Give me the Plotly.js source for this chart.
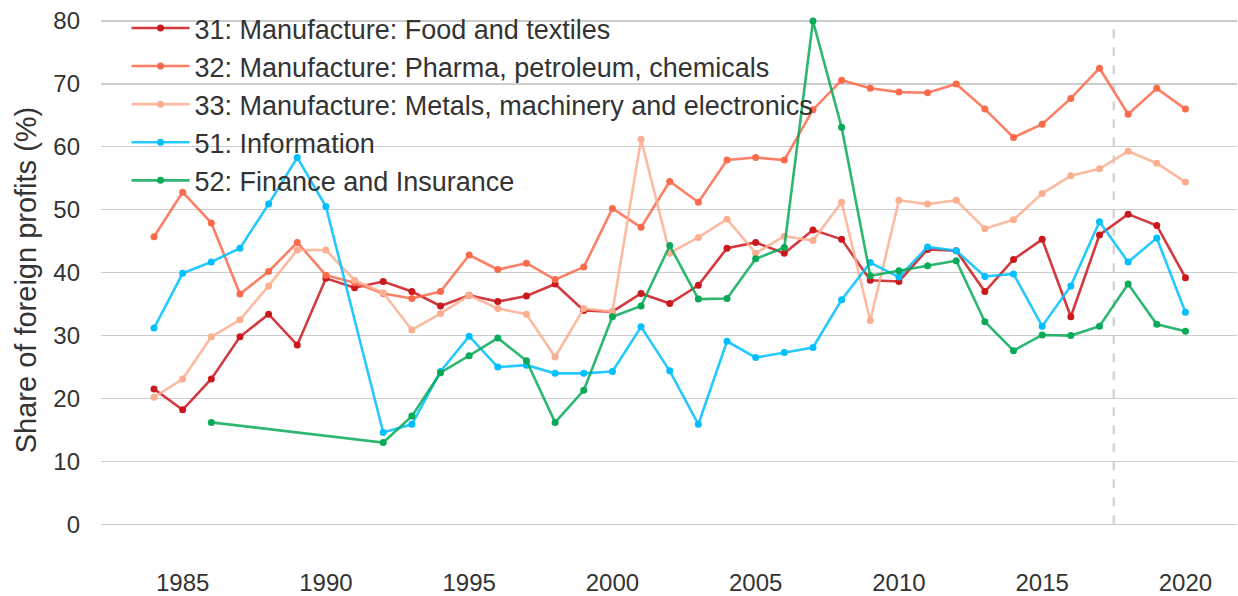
<!DOCTYPE html>
<html>
<head>
<meta charset="utf-8">
<script src="https://cdn.plot.ly/plotly-3.0.1.min.js"></script>
<style>
  html, body { margin: 0; padding: 0; background: #ffffff; }
  #chart { width: 1238px; height: 596px; }
</style>
</head>
<body>
<div id="chart"></div>
<script>
// ---- data ----
const years = [1984,1985,1986,1987,1988,1989,1990,1991,1992,1993,1994,1995,1996,1997,1998,1999,2000,2001,2002,2003,2004,2005,2006,2007,2008,2009,2010,2011,2012,2013,2014,2015,2016,2017,2018,2019,2020];

const seriesNames = [
  "31: Manufacture: Food and textiles",
  "32: Manufacture: Pharma, petroleum, chemicals",
  "33: Manufacture: Metals, machinery and electronics",
  "51: Information",
  "52: Finance and Insurance"
];

const food31 = [21.5,18.2,23.1,29.8,33.4,28.5,39.1,37.6,38.6,37.0,34.7,36.4,35.4,36.3,38.2,34.0,33.8,36.7,35.1,38.0,43.9,44.8,43.1,46.8,45.3,38.8,38.6,43.7,43.5,37.0,42.1,45.3,33.0,46.0,49.3,47.5,39.2];
const pharma32 = [45.7,52.8,47.9,36.6,40.2,44.8,39.6,38.4,36.7,35.9,37.0,42.8,40.5,41.5,38.9,40.9,50.2,47.2,54.5,51.2,57.9,58.3,57.9,65.9,70.6,69.3,68.7,68.6,70.0,66.0,61.5,63.6,67.7,72.5,65.2,69.3,66.0];
const metals33 = [20.2,23.1,29.8,32.5,37.9,43.6,43.6,38.8,36.8,30.9,33.5,36.4,34.3,33.4,26.6,34.3,33.8,61.2,43.1,45.6,48.5,43.1,45.8,45.1,51.2,32.4,51.5,50.9,51.5,47.0,48.4,52.6,55.4,56.5,59.3,57.4,54.4];
const info51 = [31.2,39.9,41.7,43.9,50.9,58.3,50.5,null,14.6,15.9,24.3,29.9,25.0,25.3,24.0,24.0,24.3,31.4,24.4,15.9,29.1,26.5,27.3,28.1,35.7,41.6,39.3,44.1,43.5,39.4,39.8,31.5,37.9,48.1,41.7,45.5,33.7];
const finance52 = [null,null,16.2,null,null,null,null,null,13.0,17.2,24.1,26.8,29.6,26.0,16.2,21.3,33.0,34.7,44.3,35.8,35.9,42.2,44.0,80.0,63.1,39.5,40.3,41.1,41.9,32.2,27.6,30.1,30.0,31.5,38.2,31.8,30.7];

const cutoffYear = 2017.5;
const yTicks = [0,10,20,30,40,50,60,70,80];
const xTicks = [1985,1990,1995,2000,2005,2010,2015,2020];

// ---- styles ----
const lineColors = ["rgba(203,24,29,0.85)","rgba(251,106,74,0.85)","rgba(252,174,145,0.85)","rgba(0,191,255,0.85)","rgba(8,170,88,0.85)"];
const markerColors = ["#cb181d","#fb6a4a","#fcae91","#00bfff","#08aa58"];
const allSeries = [food31, pharma32, metals33, info51, finance52];

const FONT = "'Liberation Sans', Arial, sans-serif";
const traces = allSeries.map((vals, i) => ({
  type: "scatter",
  mode: "lines+markers",
  name: seriesNames[i],
  x: years,
  y: vals,
  connectgaps: true,
  line: { color: lineColors[i], width: 2.6 },
  marker: { color: markerColors[i], size: 7 }
}));

const layout = {
  width: 1238,
  height: 596,
  margin: { l: 101, r: 1, t: 0, b: 36, pad: 0 },
  paper_bgcolor: "#ffffff",
  plot_bgcolor: "#ffffff",
  font: { family: FONT, color: "#333333" },
  showlegend: true,
  legend: {
    x: 0.0225, y: 0.993, xanchor: "left", yanchor: "top",
    bgcolor: "rgba(0,0,0,0)",
    font: { family: FONT, size: 27, color: "#333333" },
    itemwidth: 58,
    tracegroupgap: 0
  },
  xaxis: {
    range: [1982.15, 2021.8],
    tickvals: xTicks,
    ticktext: xTicks.map(String),
    showgrid: false,
    zeroline: false,
    showline: false,
    ticks: "",
    tickfont: { family: FONT, size: 24, color: "#333333" },
    ticklabelstandoff: 6
  },
  yaxis: {
    range: [-5.67, 83.34],
    tickvals: yTicks,
    ticktext: yTicks.map(String),
    showgrid: true,
    gridcolor: "#cccccc",
    gridwidth: 1.3,
    zeroline: false,
    showline: false,
    ticks: "",
    tickfont: { family: FONT, size: 24, color: "#333333" },
    ticklabelstandoff: 20,
    title: { text: "Share of foreign profits (%)", font: { family: FONT, size: 29, color: "#333333" }, standoff: 8 }
  },
  shapes: [{
    type: "line", xref: "x", yref: "y",
    x0: cutoffYear, x1: cutoffYear, y0: 0, y1: 80,
    line: { color: "#d5d5d5", width: 2.5, dash: "dash" },
    layer: "below"
  }]
};

Plotly.newPlot("chart", traces, layout, { displayModeBar: false, staticPlot: true });
</script>
</body>
</html>
